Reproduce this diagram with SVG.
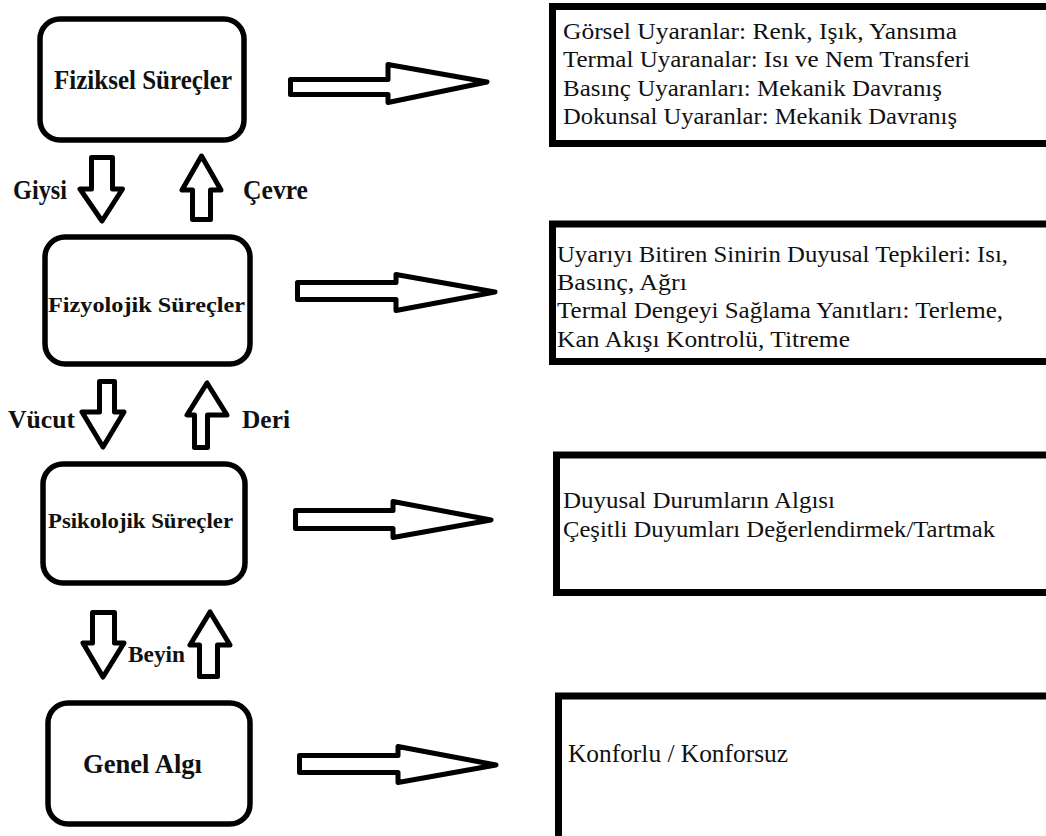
<svg xmlns="http://www.w3.org/2000/svg" width="1046" height="836" viewBox="0 0 1046 836">
<style>
.node{fill:#fff;stroke:#000;stroke-width:5.5}
.box{fill:#fff;stroke:#000;stroke-width:7}
.arr{fill:#fff;stroke:#000;stroke-width:5;stroke-linejoin:round}
.nt{font-family:"Liberation Serif","Times New Roman",serif;font-weight:bold;fill:#111}
.bt{font-family:"Liberation Serif","Times New Roman",serif;fill:#111}
</style>
<rect width="1046" height="836" fill="#fff"/>
<g id="fiziksel">
<rect class="node" x="40" y="19" width="204" height="121" rx="20"/>
<text class="nt" x="54" y="89" font-size="26.5" textLength="178" lengthAdjust="spacingAndGlyphs">Fiziksel Süreçler</text>
</g>
<g id="fizyolojik">
<rect class="node" x="45" y="237" width="205" height="127" rx="20"/>
<text class="nt" x="48" y="312" font-size="21" textLength="197" lengthAdjust="spacingAndGlyphs">Fizyolojik Süreçler</text>
</g>
<g id="psikolojik">
<rect class="node" x="43" y="464" width="202" height="119" rx="20"/>
<text class="nt" x="48" y="528" font-size="21" textLength="185" lengthAdjust="spacingAndGlyphs">Psikolojik Süreçler</text>
</g>
<g id="genel">
<rect class="node" x="48" y="703" width="202" height="121" rx="20"/>
<text class="nt" x="83" y="773" font-size="27" textLength="119" lengthAdjust="spacingAndGlyphs">Genel Algı</text>
</g>
<g id="fiziksel-detay">
<rect class="box" x="552.5" y="6.5" width="500" height="137"/>
<text class="bt" x="563" y="38.5" font-size="24" textLength="394" lengthAdjust="spacingAndGlyphs">Görsel Uyaranlar: Renk, Işık, Yansıma</text>
<text class="bt" x="563" y="67" font-size="24" textLength="407" lengthAdjust="spacingAndGlyphs">Termal Uyaranalar: Isı ve Nem Transferi</text>
<text class="bt" x="563" y="96" font-size="24" textLength="379" lengthAdjust="spacingAndGlyphs">Basınç Uyaranları: Mekanik Davranış</text>
<text class="bt" x="563" y="124" font-size="24" textLength="394" lengthAdjust="spacingAndGlyphs">Dokunsal Uyaranlar: Mekanik Davranış</text>
</g>
<g id="fizyolojik-detay">
<rect class="box" x="552.5" y="224" width="500" height="137.5"/>
<text class="bt" x="557" y="262" font-size="24" textLength="451" lengthAdjust="spacingAndGlyphs">Uyarıyı Bitiren Sinirin Duyusal Tepkileri: Isı,</text>
<text class="bt" x="557" y="290" font-size="24" textLength="130" lengthAdjust="spacingAndGlyphs">Basınç, Ağrı</text>
<text class="bt" x="557" y="318" font-size="24" textLength="446" lengthAdjust="spacingAndGlyphs">Termal Dengeyi Sağlama Yanıtları: Terleme,</text>
<text class="bt" x="557" y="347" font-size="24" textLength="293" lengthAdjust="spacingAndGlyphs">Kan Akışı Kontrolü, Titreme</text>
</g>
<g id="psikolojik-detay">
<rect class="box" x="556.5" y="455" width="500" height="137.5"/>
<text class="bt" x="563" y="508" font-size="24" textLength="272" lengthAdjust="spacingAndGlyphs">Duyusal Durumların Algısı</text>
<text class="bt" x="563" y="537" font-size="24" textLength="432" lengthAdjust="spacingAndGlyphs">Çeşitli Duyumları Değerlendirmek/Tartmak</text>
</g>
<g id="genel-detay">
<rect class="box" x="558.5" y="696" width="500" height="150"/>
<text class="bt" x="568" y="762" font-size="25.5" textLength="220" lengthAdjust="spacingAndGlyphs">Konforlu / Konforsuz</text>
</g>
<g id="connectors">
<polygon class="arr" points="290.5,79.5 388,79.5 388,64.5 487,82 388,102.5 388,94.5 290.5,94.5"/>
<polygon class="arr" points="297.5,282.5 396,282.5 396,274.5 495,292 396,310.5 396,299.5 297.5,299.5"/>
<polygon class="arr" points="295.5,510.5 393,510.5 393,501.5 491,520 393,537.5 393,528.5 295.5,528.5"/>
<polygon class="arr" points="299.5,755.5 398,755.5 398,746.5 496,765 398,782.5 398,772.5 299.5,772.5"/>
<polygon class="arr" points="91.5,157.5 112.5,157.5 112.5,189 122.5,189 102,221 80,189 91.5,189"/>
<polygon class="arr" points="192.5,219.5 210.5,219.5 210.5,190 221,190 201.5,156 182,190 192.5,190"/>
<polygon class="arr" points="99.5,381.5 114.5,381.5 114.5,412 124,412 103,447 82,412 99.5,412"/>
<polygon class="arr" points="194.5,447.5 207.5,447.5 207.5,415 227,415 207,383 187,415 194.5,415"/>
<polygon class="arr" points="92.5,612.5 114.5,612.5 114.5,643 124,643 103,677 83,643 92.5,643"/>
<polygon class="arr" points="199.5,676.5 217.5,676.5 217.5,645 230,645 210,612 190,645 199.5,645"/>
<text class="nt" x="13" y="199" font-size="27" textLength="54" lengthAdjust="spacingAndGlyphs">Giysi</text>
<text class="nt" x="243" y="199" font-size="27" textLength="65" lengthAdjust="spacingAndGlyphs">Çevre</text>
<text class="nt" x="8" y="428" font-size="25" textLength="67" lengthAdjust="spacingAndGlyphs">Vücut</text>
<text class="nt" x="242" y="428" font-size="25" textLength="48" lengthAdjust="spacingAndGlyphs">Deri</text>
<text class="nt" x="128" y="662" font-size="24" textLength="57" lengthAdjust="spacingAndGlyphs">Beyin</text>
</g>
</svg>
